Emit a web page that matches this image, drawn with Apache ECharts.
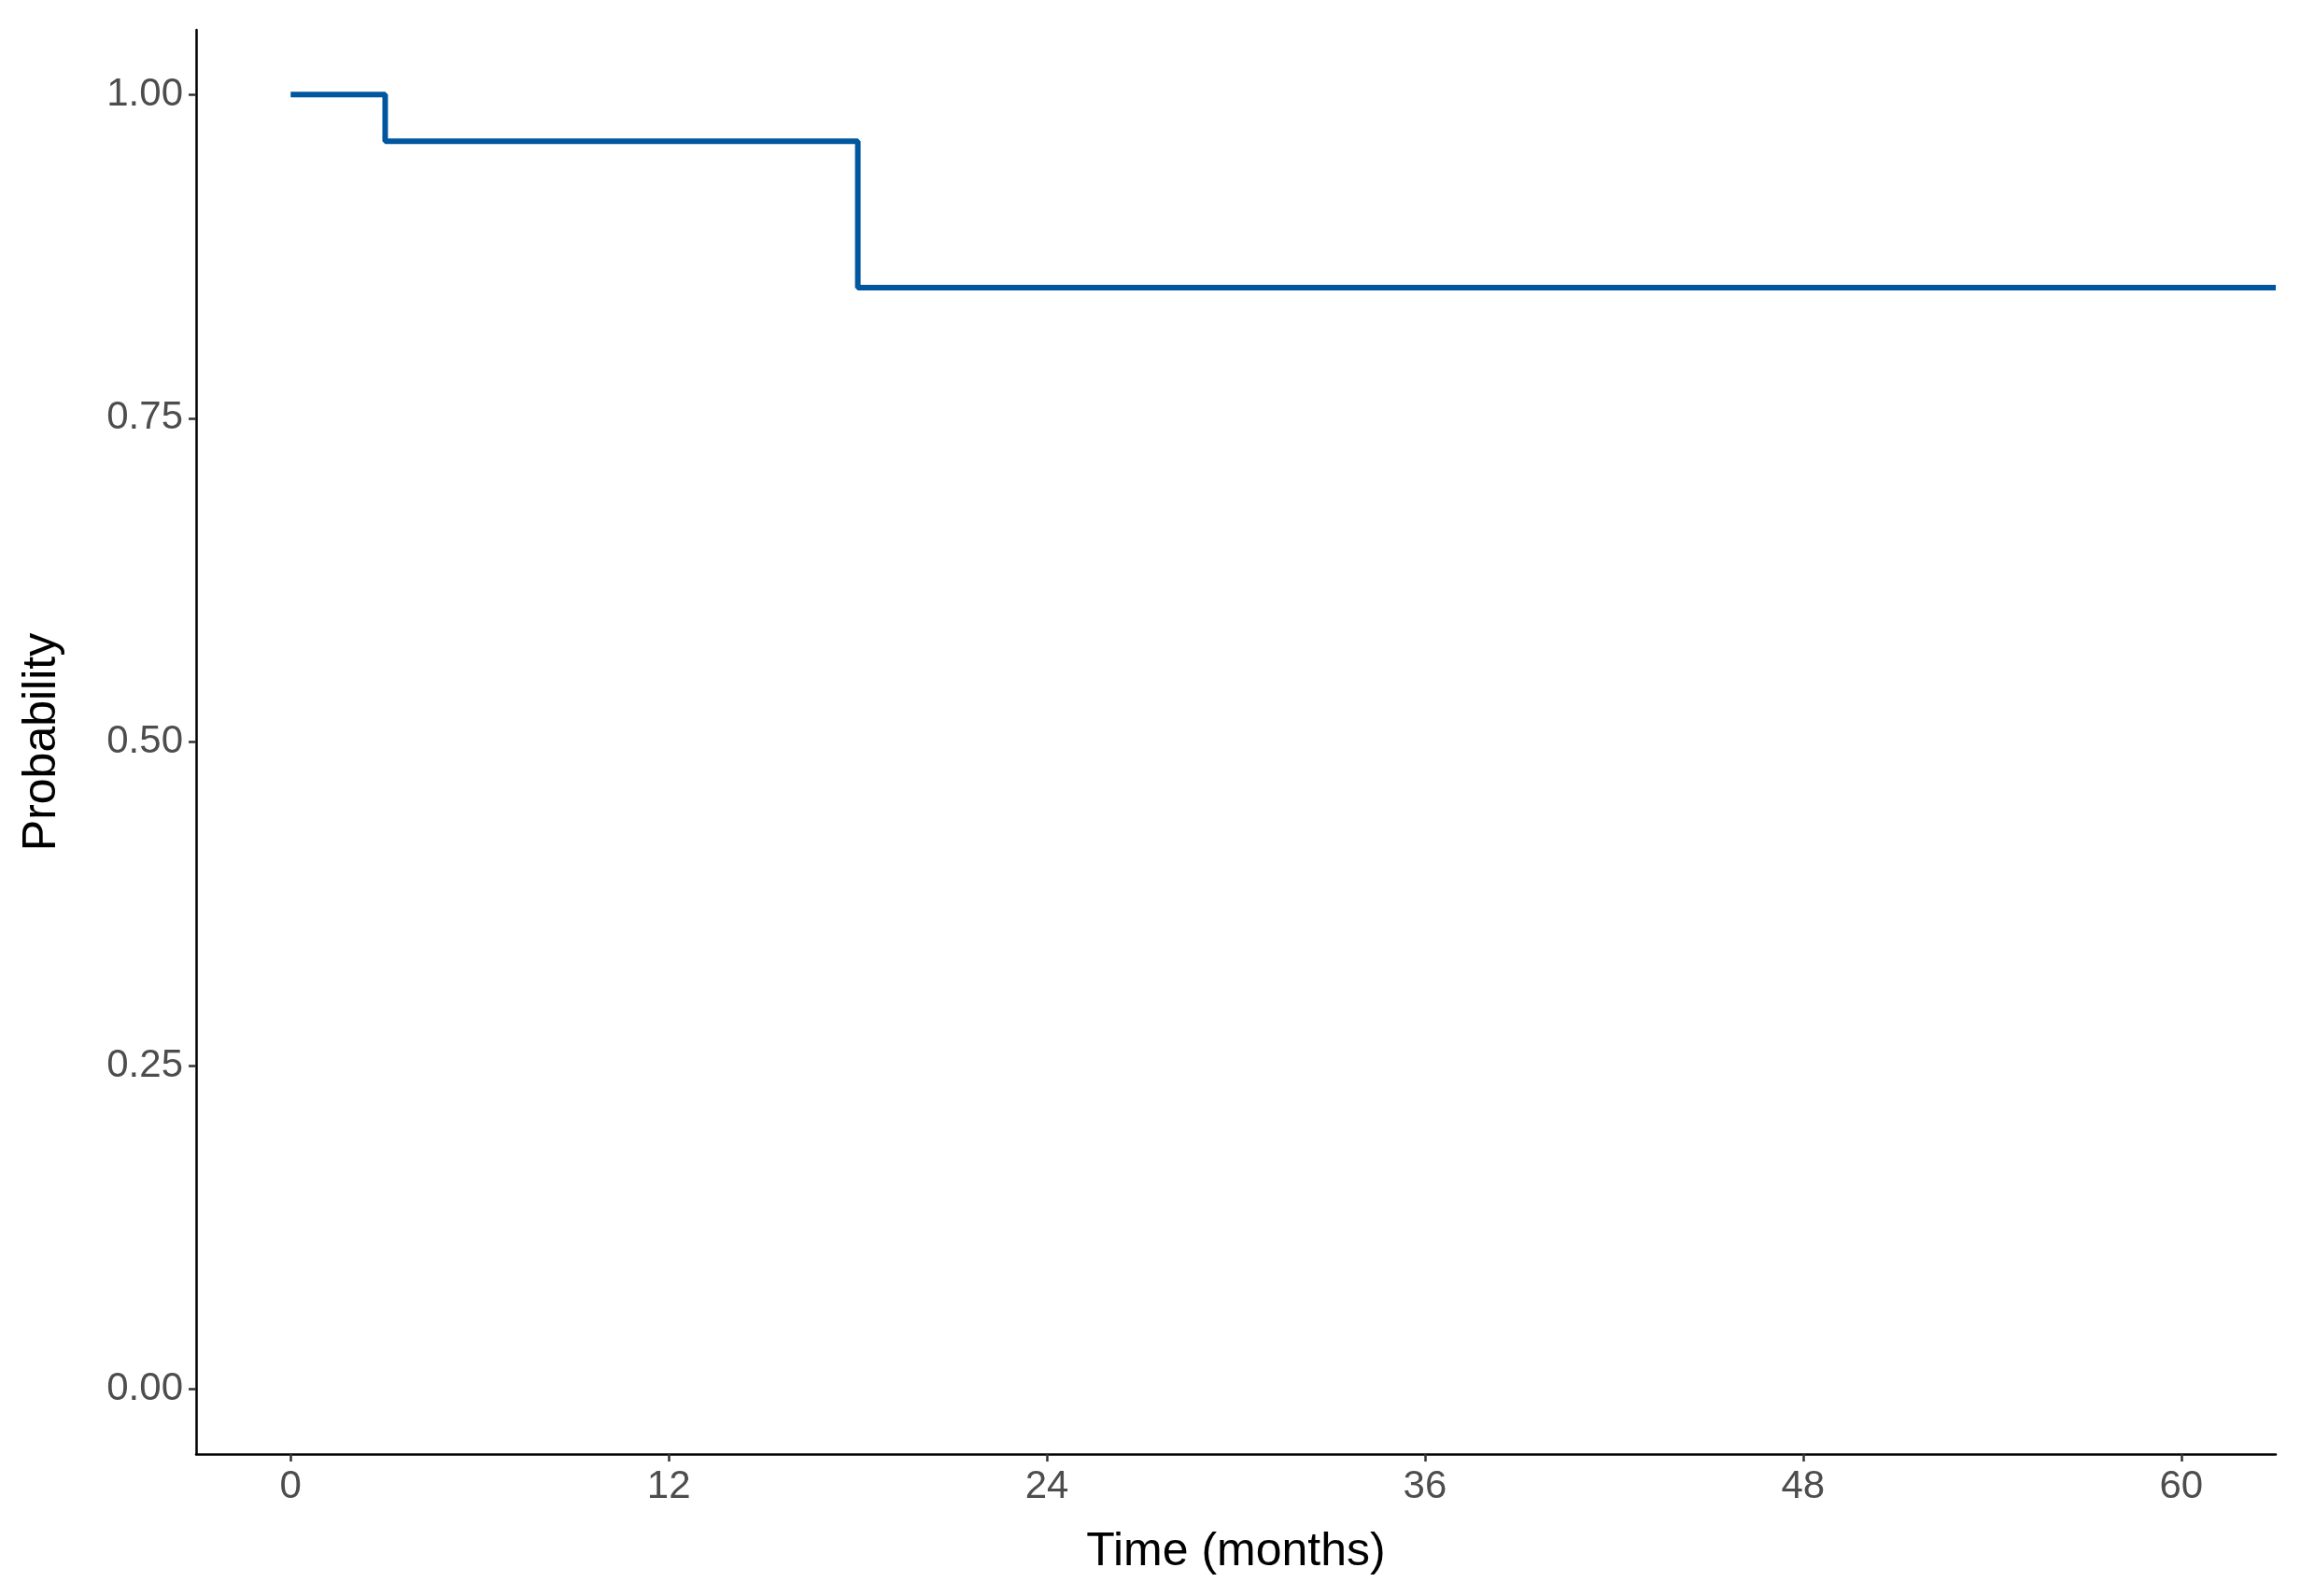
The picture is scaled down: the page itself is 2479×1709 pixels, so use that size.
<!DOCTYPE html>
<html><head><meta charset="utf-8">
<script src="https://cdn.jsdelivr.net/npm/echarts@6/dist/echarts.min.js"></script>
<style>html,body{margin:0;padding:0;background:#fff}#c{width:2479px;height:1709px}</style>
</head><body><div id="c"></div>
<script>
const times = [0, 3, 18, 63];
const survival = [1.0, 0.964, 0.851, 0.851];
const xTicks = [0, 12, 24, 36, 48, 60];
const yTicks = [0, 0.25, 0.5, 0.75, 1.0];
const xTitle = 'Time (months)';
const yTitle = 'Probability';

const chart = echarts.init(document.getElementById('c'));
const labelStyle = {color:'#4d4d4d', fontSize:42, fontFamily:'Liberation Sans, Arial, sans-serif'};
chart.setOption({
  animation:false,
  grid:{left:210, right:42, top:32, bottom:152},
  xAxis:{type:'value', min:-3, max:63,
    name:xTitle, nameLocation:'middle', nameGap:80,
    nameTextStyle:{color:'#000', fontSize:50, fontFamily:'Liberation Sans, Arial, sans-serif'},
    axisLine:{onZero:false, lineStyle:{color:'#000', width:2.5}},
    axisTick:{customValues:xTicks, length:8, lineStyle:{color:'#333', width:2.5}},
    axisLabel:Object.assign({customValues:xTicks, margin:14}, labelStyle),
    splitLine:{show:false}},
  yAxis:{type:'value', min:-0.05, max:1.05,
    name:yTitle, nameLocation:'middle', nameGap:140,
    nameTextStyle:{color:'#000', fontSize:50, fontFamily:'Liberation Sans, Arial, sans-serif'},
    axisLine:{show:true, onZero:false, lineStyle:{color:'#000', width:2.5}},
    axisTick:{show:true, customValues:yTicks, length:8, lineStyle:{color:'#333', width:2.5}},
    axisLabel:Object.assign({customValues:yTicks, margin:14, formatter:v=>v.toFixed(2)}, labelStyle),
    splitLine:{show:false}},
  series:[{type:'line', step:'end', showSymbol:false,
    data:times.map((t,i)=>[t, survival[i]]),
    lineStyle:{color:'#0057A0', width:6}}]
});
</script></body></html>
